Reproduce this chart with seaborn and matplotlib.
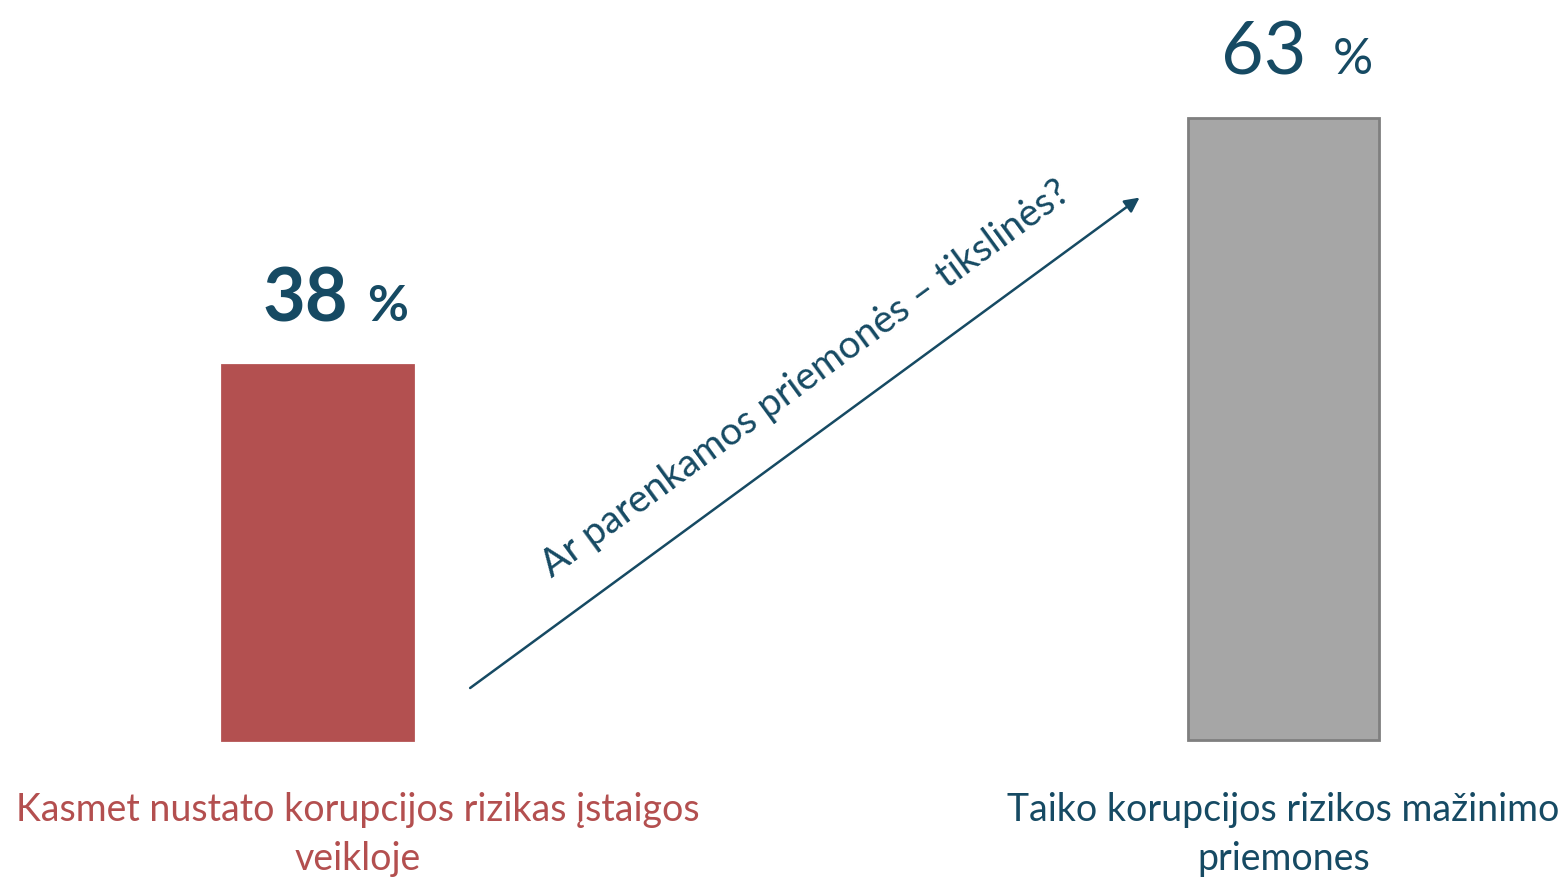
import matplotlib
matplotlib.use("Agg")
import matplotlib.pyplot as plt
import seaborn as sns
import pandas as pd

# Data
categories = ["Kasmet nustato korupcijos rizikas įstaigos\nveikloje",
              "Taiko korupcijos rizikos mažinimo\npriemones"]
values = [38, 63]
bar_colors = ["#B35050", "#A6A6A6"]
edge_colors = ["#B35050", "#7F7F7F"]
label_colors = ["#B34F4F", "#164A63"]
value_weights = ["bold", "normal"]
arrow_text = "Ar parenkamos priemonės – tikslinės?"

sns.set_theme(style="white")
plt.rcParams['font.family'] = ['Lato', 'DejaVu Sans']

TEAL = "#164A63"

fig = plt.figure(figsize=(15.67, 8.77), dpi=100)
ax = fig.add_axes([0, 0, 1, 1])

df = pd.DataFrame({"cat": categories, "val": values})
sns.barplot(data=df, x="cat", y="val", hue="cat", palette=bar_colors,
            width=0.198, legend=False, ax=ax, saturation=1)
for patch, ec in zip(ax.patches, edge_colors):
    patch.set_edgecolor(ec)
    patch.set_linewidth(2)

ax.set_xlim(-0.3287, 1.2935)
ax.set_ylim(-13.87, 74.9)
ax.axis("off")

# Value labels
num_right = [0.032, 0.024]
for i, (v, w) in enumerate(zip(values, value_weights)):
    ax.text(i + num_right[i], v + 4.4, f"{v}", ha="right", va="baseline",
            fontsize=53, color=TEAL, fontweight=w)
    ax.text(i + 0.051, v + 4.4, "%", ha="left", va="baseline",
            fontsize=36, color=TEAL, fontweight=w)

# Category labels
label_x = [0.042, 0.0]
for i, (c, col) in enumerate(zip(categories, label_colors)):
    ax.text(i + label_x[i], -5.3, c, ha="center", va="top", fontsize=27,
            color=col, linespacing=1.42)

# Arrow
ax.annotate("", xy=(0.851, 54.9), xytext=(0.158, 5.26),
            arrowprops=dict(arrowstyle="-|>", color=TEAL, lw=1.8,
                            mutation_scale=22, shrinkA=0, shrinkB=0))
ax.text(0.505, 36.5, arrow_text, rotation=36.2, rotation_mode="anchor",
        ha="center", va="center", fontsize=28, color=TEAL)

fig.savefig("out.png", dpi=100)
